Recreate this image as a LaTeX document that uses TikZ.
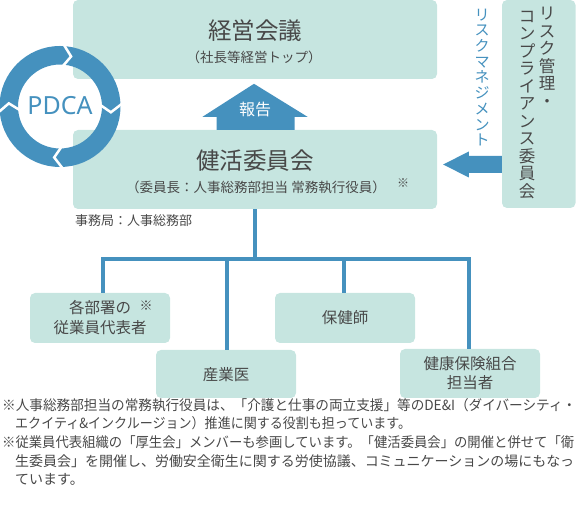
\documentclass[tikz,border=0pt]{standalone}
\usepackage{fontspec}
\usepackage{graphicx}
\setmainfont{Noto Sans CJK JP}
\newfontfamily\latinsans{Noto Sans}
\usetikzlibrary{calc}
\definecolor{bl}{RGB}{69,145,190}
\definecolor{boxc}{RGB}{198,229,224}
\definecolor{txt}{RGB}{72,72,72}
\newcommand\jfs[1]{\fontsize{#1}{#1}\selectfont}
\newcommand\fitline[2]{\resizebox{#1}{\height}{#2}}
\begin{document}
\begin{tikzpicture}[x=1pt,y=-1pt,
  box/.style={rectangle, rounded corners=5pt, fill=boxc, inner sep=0pt},
  lbl/.style={text=txt, inner sep=0pt},
  tree/.style={draw=bl, line width=4pt},
  vert/.style={text=txt, inner sep=0pt, align=center, font=\fontsize{16.5}{17.5}\selectfont},
  note/.style={text=txt, inner sep=0pt, anchor=west, font=\jfs{14}}]
\useasboundingbox (0,0) rectangle (576,521);

% boxes
\node[box, minimum width=364pt, minimum height=79pt] (keiei) at (255,39.5) {};
\node[box, minimum width=364pt, minimum height=79pt] (kenkatsu) at (255,169.5) {};
\node[box, minimum width=73.5pt, minimum height=208pt] (risk) at (538.75,104) {};
\node[box, minimum width=140pt, minimum height=50pt] (bu) at (100,318) {};
\node[box, minimum width=140pt, minimum height=48pt] (sangyoi) at (226,374) {};
\node[box, minimum width=140pt, minimum height=50pt] (hokenshi) at (345,318) {};
\node[box, minimum width=140pt, minimum height=49pt] (kenpo) at (470,373.5) {};

% texts in boxes
\node[lbl, font=\jfs{23.5}] (t1) at (255,31) {経営会議};
\node[lbl, font=\jfs{13.5}] (t1s) at (254,57) {（社長等経営トップ）};
\node[lbl, font=\jfs{23.5}] (t2) at (255,161) {健活委員会};
\node[lbl, font=\jfs{13.5}] (t2s) at (256,187) {（委員長：人事総務部担当 常務執行役員）};
\node[lbl, font=\jfs{12}] (t2m) at (403,183) {※};
\node[lbl, font=\jfs{13}, anchor=west] (jim) at (75,221) {事務局：人事総務部};
\node[lbl, font=\jfs{15.5}] (b1) at (100,308) {各部署の};
\node[lbl, font=\jfs{13}] (b1m) at (146,306) {※};
\node[lbl, font=\jfs{15.5}] (b2) at (100,328) {従業員代表者};
\node[lbl, font=\jfs{15.5}] (hs) at (345,318) {保健師};
\node[lbl, font=\jfs{15.5}] (si) at (226,375) {産業医};
\node[lbl, font=\jfs{15.5}] (kp1) at (470,364) {健康保険組合};
\node[lbl, font=\jfs{15.5}] (kp2) at (470,383) {担当者};

% vertical texts
\node[vert] (r1) at (547,57) {リ\\ス\\ク\\管\\理\\・};
\node[vert] (r2) at (527,105) {コ\\ン\\プ\\ラ\\イ\\ア\\ン\\ス\\委\\員\\会};
\node[vert, text=bl, font=\fontsize{15}{15.7}\selectfont] (rm) at (482,77.5) {リ\\ス\\ク\\マ\\ネ\\ジ\\メ\\ン\\ト};

% report arrow
\fill[bl] ($(kenkatsu.north)+(-38.5,0)$) -- ($(kenkatsu.north)+(-38.5,-13)$)
  -- ($(kenkatsu.north)+(-52.5,-13)$) -- ($(kenkatsu.north)+(-1,-46)$)
  -- ($(kenkatsu.north)+(52.5,-13)$) -- ($(kenkatsu.north)+(39.5,-13)$)
  -- ($(kenkatsu.north)+(39.5,0)$) -- cycle;
\node[inner sep=0pt, text=white, font=\jfs{16}] (hokoku) at ($(kenkatsu.north)+(0,-20)$) {報告};

% risk management arrow
\coordinate (ra) at ($(risk.west |- kenkatsu.east)+(0,-5)$);
\fill[bl] (ra) ++(0,-8.5) -- ++(-33,0) -- ++(0,-4.5) -- ($(kenkatsu.east |- ra)+(6,0)$)
  -- ($(ra)+(-33,13)$) -- ($(ra)+(-33,8.5)$) -- ($(ra)+(0,8.5)$) -- cycle;

% tree
\coordinate (bar) at (0,259);
\draw[tree] (kenkatsu.south) -- (kenkatsu.south |- bar);
\draw[tree] ([xshift=3pt]bu.north) -- ([xshift=3pt]bu.north |- bar) -- ([xshift=-1pt]kenpo.north |- bar) -- ([xshift=-1pt]kenpo.north);
\draw[tree] ([xshift=1pt]sangyoi.north) -- ([xshift=1pt]sangyoi.north |- bar);
\draw[tree] ([xshift=-1pt]hokenshi.north) -- ([xshift=-1pt]hokenshi.north |- bar);

% PDCA ring
\coordinate (pc) at (60,106.5);
\draw[bl, line width=18.5pt] (pc) circle (51.25pt);
\foreach \a in {82,-2,268,181}{
  \draw[white, line width=2.5pt, line join=miter]
    ($(pc)+(\a+4.5:62pt)$) -- ($(pc)+(\a-4.5:51.25pt)$) -- ($(pc)+(\a+4.5:40pt)$);
}
\node[inner sep=0pt, text=bl, font=\latinsans\fontsize{25}{25}\selectfont] (pdca) at (60,106) {PDCA};

% notes
\node[note] (n1) at (2,405) {\fitline{574pt}{※人事総務部担当の常務執行役員は、「介護と仕事の両立支援」等のDE\&I（ダイバーシティ・}};
\node[note] (n2) at (15,423) {\fitline{396pt}{エクイティ\&インクルージョン）推進に関する役割も担っています。}};
\node[note] (n3) at (2,442) {\fitline{572pt}{※従業員代表組織の「厚生会」メンバーも参画しています。「健活委員会」の開催と併せて「衛}};
\node[note] (n4) at (15,461) {\fitline{559pt}{生委員会」を開催し、労働安全衛生に関する労使協議、コミュニケーションの場にもなっ}};
\node[note] (n5) at (15,479) {ています。};
\end{tikzpicture}
\end{document}
